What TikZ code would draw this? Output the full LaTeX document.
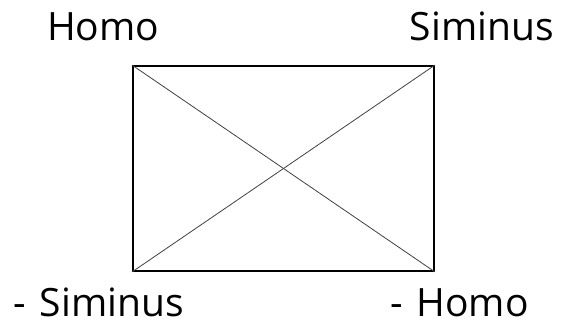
\documentclass[tikz,border=0pt]{standalone}
\usepackage{fontspec}
\setmainfont{Open Sans}
\usetikzlibrary{positioning}

\begin{document}
\begin{tikzpicture}[
            x=1pt, y=-1pt,
            square/.style={draw, line width=1.8pt, minimum width=301pt, minimum height=205pt, inner sep=0pt},
            diag/.style={draw=black!75, line width=0.8pt},
            term/.style={inner sep=0pt, font=\fontsize{39}{46}\selectfont}
        ]
        \useasboundingbox (0,0) rectangle (564,323);
        \node[square] (sq) at (283.5,168.5) {};
        \node[term, anchor=base west] (homo) at (47,41) {Homo};
        \node[term, anchor=base east] (sim) at (554,41) {Siminus};
        \node[term, anchor=base west] (nsim) at (13.5,316.5) {-\hspace{0.35em}Siminus};
        \node[term, anchor=base east] (nhomo) at (529,316.5) {-\hspace{0.35em}Homo};

        \draw[diag] (sq.north west) -- (sq.south east);
        \draw[diag] (sq.south west) -- (sq.north east);
        \end{tikzpicture}
\end{document}
